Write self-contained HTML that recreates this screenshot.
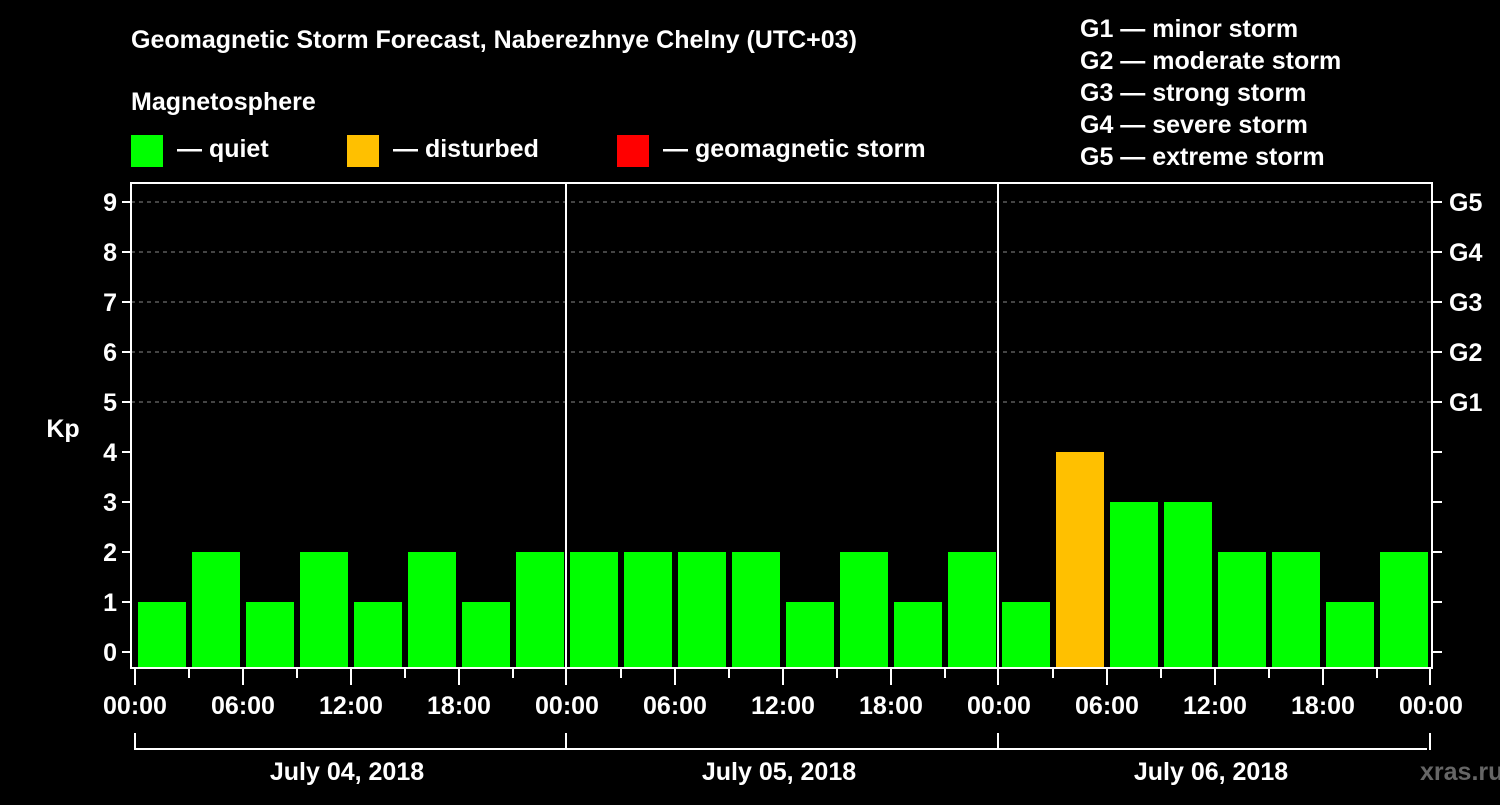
<!DOCTYPE html>
<html><head><meta charset="utf-8"><style>
body{margin:0;background:#000;width:1500px;height:800px;overflow:hidden}
svg text{font-family:"Liberation Sans",sans-serif;font-weight:bold;fill:#fff}
</style></head><body>
<svg id="c" width="1500" height="800">
<text x="131" y="48" font-size="25">Geomagnetic Storm Forecast, Naberezhnye Chelny (UTC+03)</text>
<text x="131" y="110" font-size="25">Magnetosphere</text>
<rect x="131" y="135" width="32" height="32" fill="#00ff00"/>
<text x="177" y="157" font-size="25">— quiet</text>
<rect x="347" y="135" width="32" height="32" fill="#ffc000"/>
<text x="393" y="157" font-size="25">— disturbed</text>
<rect x="617" y="135" width="32" height="32" fill="#ff0000"/>
<text x="663" y="157" font-size="25">— geomagnetic storm</text>
<g font-size="25">
<text x="1080" y="37">G1 — minor storm</text>
<text x="1080" y="69">G2 — moderate storm</text>
<text x="1080" y="101">G3 — strong storm</text>
<text x="1080" y="133">G4 — severe storm</text>
<text x="1080" y="165">G5 — extreme storm</text>
</g>
<text x="63" y="437" font-size="25" text-anchor="middle">Kp</text>
<text x="1420" y="780" font-size="25" fill="#666" style="fill:#666">xras.ru</text>
<g id="g"></g>
</svg>
<script>
const days=["July 04, 2018","July 05, 2018","July 06, 2018"];
const kp=[1,2,1,2,1,2,1,2, 2,2,2,2,1,2,1,2, 1,4,3,3,2,2,1,2];
const yTicks=[0,1,2,3,4,5,6,7,8,9];
const gLabels=["G1","G2","G3","G4","G5"];
const gLevels=[5,6,7,8,9];
const hourLabels=["00:00","06:00","12:00","18:00"];
const NS="http://www.w3.org/2000/svg",g=document.getElementById('g');
const X0=135,DAY=432,L=131,R=1432,T=183,B=668;
const xs=h=>X0+h*DAY/24, ys=v=>652-50*v;
function el(t,a){const e=document.createElementNS(NS,t);for(const k in a)e.setAttribute(k,a[k]);g.appendChild(e);return e;}
function col(v){return v>=5?"#ff0000":v>=4?"#ffc000":"#00ff00";}
kp.forEach((v,i)=>{const e=el('rect',{x:xs(i*3)+3,y:ys(v),width:48,height:B-ys(v),fill:col(v)});

});
yTicks.forEach(v=>{const y=ys(v);
if(v>=5){const d=el('line',{x1:L,x2:R,y1:y,y2:y,stroke:'#888','stroke-dasharray':'4,4'});}
el('line',{x1:122,x2:L,y1:y,y2:y,stroke:'#fff','stroke-width':2});
el('line',{x1:R,x2:1442,y1:y,y2:y,stroke:'#fff','stroke-width':2});
const t=el('text',{x:117,y:y+9,'font-size':25,'text-anchor':'end'});t.textContent=v;

});
gLevels.forEach((v,i)=>{const t=el('text',{x:1449,y:ys(v)+9,'font-size':25});t.textContent=gLabels[i];

});
for(let d=1;d<days.length;d++){el('line',{x1:X0+d*DAY-1,x2:X0+d*DAY-1,y1:T,y2:B,stroke:'#fff','stroke-width':2});}
const f=el('rect',{x:L,y:T,width:R-L,height:B-T,fill:'none',stroke:'#fff','stroke-width':2});


for(let h=0;h<=72;h+=3){const x=xs(h)-(h%24==0&&h>0?1:0);el('line',{x1:x,x2:x,y1:B,y2:h%6==0?685:678,stroke:'#fff','stroke-width':2});
if(h%6==0){const t=el('text',{x:xs(h),y:714,'font-size':25,'text-anchor':'middle'});t.textContent=hourLabels[(h%24)/6];

}}
el('line',{x1:X0,x2:X0+3*DAY-4,y1:749,y2:749,stroke:'#fff','stroke-width':2});
for(let d=0;d<=days.length;d++){const x=X0+d*DAY-(d?1:0);el('line',{x1:x,x2:x,y1:733,y2:750,stroke:'#fff','stroke-width':2});}
days.forEach((s,d)=>{const t=el('text',{x:X0+d*DAY+DAY/2-4,y:780,'font-size':25,'text-anchor':'middle'});t.textContent=s;

});
</script>
</body></html>
